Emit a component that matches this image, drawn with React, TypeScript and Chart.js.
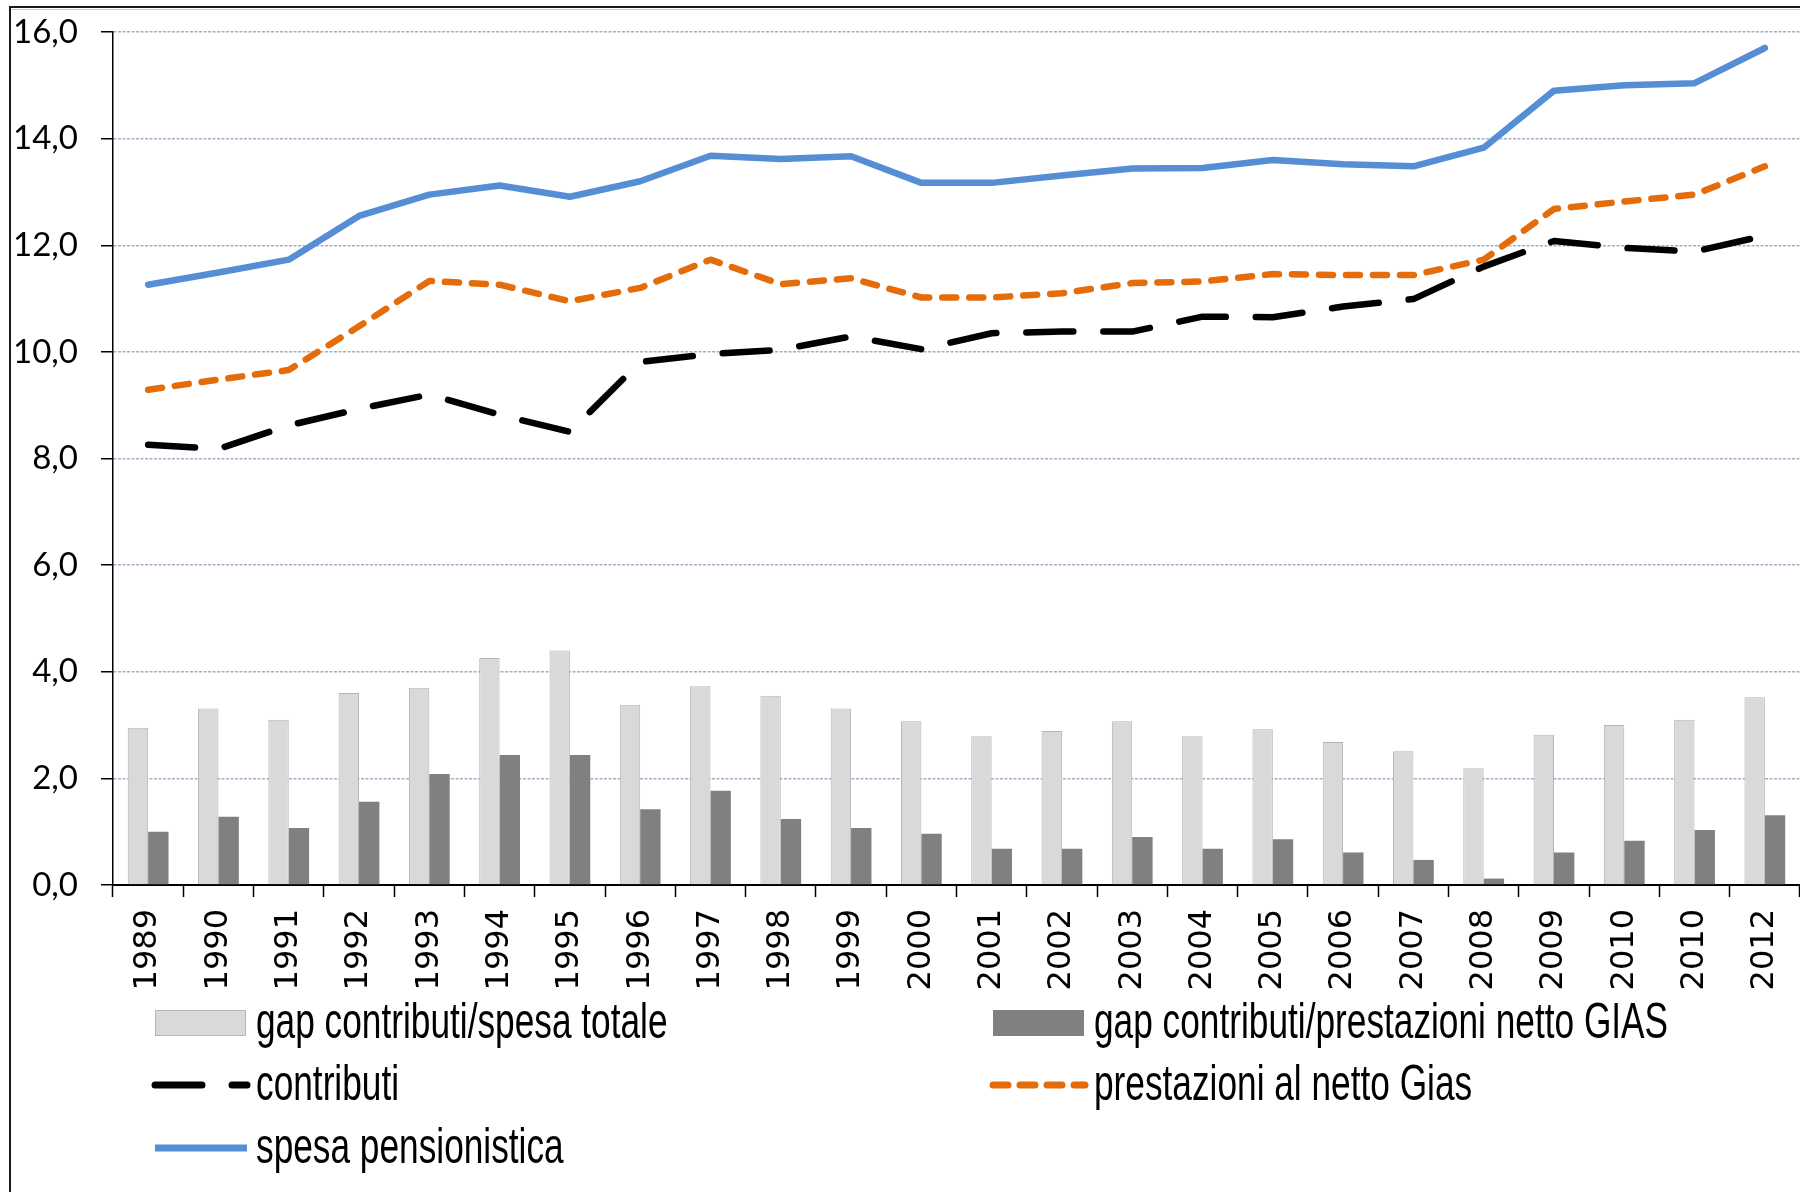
import React, { useEffect, useRef } from "react";
import { Chart, registerables } from "chart.js";

Chart.register(...registerables);

const years = [
  "1989", "1990", "1991", "1992", "1993", "1994", "1995", "1996", "1997", "1998", "1999", "2000",
  "2001", "2002", "2003", "2004", "2005", "2006", "2007", "2008", "2009", "2010", "2010", "2012",
];

const gapSpesaTotale = [
  2.95, 3.31, 3.1, 3.6, 3.7, 4.26, 4.4, 3.38, 3.73, 3.55, 3.31, 3.07,
  2.79, 2.89, 3.07, 2.79, 2.92, 2.68, 2.51, 2.19, 2.82, 3.0, 3.1, 3.52,
];

const gapNettoGias = [
  1.0, 1.28, 1.07, 1.56, 2.08, 2.44, 2.44, 1.42, 1.77, 1.24, 1.07, 0.96,
  0.68, 0.68, 0.9, 0.68, 0.86, 0.61, 0.47, 0.12, 0.61, 0.83, 1.03, 1.31,
];

const contributi = [
  8.26, 8.18, 8.62, 8.93, 9.2, 8.82, 8.5, 9.81, 9.96, 10.04, 10.29, 10.05,
  10.35, 10.38, 10.38, 10.66, 10.65, 10.85, 10.99, 11.6, 12.08, 11.95, 11.88, 12.18,
];

const prestazioniNettoGias = [
  9.29, 9.48, 9.66, 10.48, 11.33, 11.26, 10.95, 11.2, 11.73, 11.27, 11.38, 11.02,
  11.02, 11.1, 11.29, 11.32, 11.46, 11.44, 11.44, 11.73, 12.68, 12.82, 12.95, 13.48,
];

const spesaPensionistica = [
  11.26, 11.49, 11.73, 12.55, 12.95, 13.12, 12.91, 13.2, 13.68, 13.62, 13.67, 13.17,
  13.17, 13.31, 13.44, 13.45, 13.6, 13.52, 13.48, 13.83, 14.9, 15.0, 15.04, 15.7,
];

const W = 1800;
const H = 1192;

const legendLayout = [
  { ds: 0, col: 0, row: 0, kind: "box" },
  { ds: 1, col: 1, row: 0, kind: "box" },
  { ds: 2, col: 0, row: 1, kind: "line", dash: [47, 30] },
  { ds: 3, col: 1, row: 1, kind: "line", dash: [15, 12] },
  { ds: 4, col: 0, row: 2, kind: "line", dash: [] },
];

const colX = [155, 993];
const rowY = [1023, 1085, 1148];

const columnLegend = {
  id: "columnLegend",
  afterDraw(chart: any) {
    const ctx = chart.ctx as CanvasRenderingContext2D;
    const dss = chart.data.datasets;
    legendLayout.forEach((it) => {
      const ds = dss[it.ds];
      const x = colX[it.col];
      const y = rowY[it.row];
      ctx.save();
      if (it.kind === "box") {
        ctx.fillStyle = ds.backgroundColor;
        ctx.fillRect(x, y - 13, 91, 26);
        if (ds.borderWidth) {
          ctx.strokeStyle = ds.borderColor;
          ctx.lineWidth = 1;
          ctx.strokeRect(x + 0.5, y - 12.5, 90, 25);
        }
      } else {
        ctx.strokeStyle = ds.borderColor;
        ctx.lineWidth = 7;
        ctx.lineCap = it.dash && it.dash.length ? "round" : "butt";
        ctx.setLineDash(it.dash || []);
        ctx.beginPath();
        ctx.moveTo(x, y);
        ctx.lineTo(x + 92, y);
        ctx.stroke();
      }
      ctx.restore();

      ctx.save();
      ctx.translate(x + 101, y + 15);
      ctx.scale(0.75, 1.05);
      ctx.font = '47px "Liberation Sans", Arial, sans-serif';
      ctx.fillStyle = "#000";
      ctx.textAlign = "left";
      ctx.textBaseline = "alphabetic";
      ctx.fillText(ds.label, 0, 0);
      ctx.restore();
    });
  },
};

const frame = {
  id: "frame",
  beforeDraw(chart: any) {
    const ctx = chart.ctx as CanvasRenderingContext2D;
    ctx.save();
    ctx.fillStyle = "#fff";
    ctx.fillRect(0, 0, W, H);
    ctx.strokeStyle = "#1a1a1a";
    ctx.lineWidth = 2;
    ctx.beginPath();
    ctx.moveTo(10, H);
    ctx.lineTo(10, 7);
    ctx.lineTo(W, 7);
    ctx.stroke();
    ctx.strokeStyle = "#c8c8c8";
    ctx.lineWidth = 1;
    ctx.beginPath();
    ctx.moveTo(12, 9.5);
    ctx.lineTo(W, 9.5);
    ctx.stroke();
    ctx.restore();
  },
};

export default function App() {
  const ref = useRef<HTMLCanvasElement | null>(null);

  useEffect(() => {
    if (!ref.current) return;
    const chart = new Chart(ref.current, {
      type: "bar",
      data: {
        labels: years,
        datasets: [
          {
            type: "bar",
            label: "gap contributi/spesa totale",
            data: gapSpesaTotale,
            backgroundColor: "#d9d9d9",
            borderColor: "#b5b5b5",
            borderWidth: 1,
            categoryPercentage: 0.58,
            barPercentage: 1.0,
            order: 2,
          },
          {
            type: "bar",
            label: "gap contributi/prestazioni netto GIAS",
            data: gapNettoGias,
            backgroundColor: "#808080",
            borderColor: "#808080",
            borderWidth: 0,
            categoryPercentage: 0.58,
            barPercentage: 1.0,
            order: 2,
          },
          {
            type: "line",
            label: "contributi",
            data: contributi,
            borderColor: "#000000",
            backgroundColor: "#000000",
            borderWidth: 6.5,
            borderDash: [47, 30],
            borderCapStyle: "round",
            borderJoinStyle: "round",
            pointRadius: 0,
            tension: 0,
            fill: false,
            order: 1,
          },
          {
            type: "line",
            label: "prestazioni al netto Gias",
            data: prestazioniNettoGias,
            borderColor: "#e46c0a",
            backgroundColor: "#e46c0a",
            borderWidth: 6.5,
            borderDash: [14, 13],
            borderCapStyle: "round",
            borderJoinStyle: "round",
            pointRadius: 0,
            tension: 0,
            fill: false,
            order: 1,
          },
          {
            type: "line",
            label: "spesa pensionistica",
            data: spesaPensionistica,
            borderColor: "#558ed5",
            backgroundColor: "#558ed5",
            borderWidth: 6.5,
            borderCapStyle: "round",
            borderJoinStyle: "round",
            pointRadius: 0,
            tension: 0,
            fill: false,
            order: 1,
          },
        ],
      },
      options: {
        responsive: false,
        animation: false,
        devicePixelRatio: 1,
        layout: { padding: { top: 32, right: 0, left: 0, bottom: 200 } },
        plugins: {
          legend: { display: false },
          tooltip: { enabled: false },
        },
        scales: {
          x: {
            offset: true,
            grid: {
              display: true,
              offset: true,
              drawOnChartArea: false,
              drawTicks: true,
              tickLength: 12,
              tickColor: "#000",
              tickWidth: 1.5,
            },
            border: { display: true, color: "#000", width: 2 },
            ticks: {
              autoSkip: false,
              minRotation: 90,
              maxRotation: 90,
              padding: 12,
              color: "#000",
              font: { family: "DejaVu Sans", size: 32 },
            },
            afterFit: (s: any) => {
              s.height = H - 200 - 885;
              s.paddingLeft = 0;
              s.paddingRight = 0;
            },
          },
          y: {
            min: 0,
            max: 16,
            ticks: {
              stepSize: 2,
              padding: 23,
              color: "#000",
              font: { family: "Lato", size: 33 },
              callback: (v: any) => Number(v).toFixed(1).replace(".", ","),
            },
            grid: {
              color: "#a3afc6",
              lineWidth: 1.5,
              tickLength: 12,
              tickColor: "#000",
              tickWidth: 1.5,
            },
            border: { display: true, color: "#000", width: 1.5, dash: [3, 1.5] },
            afterFit: (s: any) => {
              s.width = 113;
              s.paddingTop = 0;
              s.paddingBottom = 0;
            },
          },
        },
      },
      plugins: [frame, columnLegend],
    } as any);
    return () => chart.destroy();
  }, []);

  return (
    <div style={{ position: "fixed", left: 0, top: 0, width: W, height: H, background: "#fff", overflow: "hidden" }}>
      <canvas ref={ref} width={W} height={H} style={{ display: "block", width: W, height: H }} />
    </div>
  );
}
